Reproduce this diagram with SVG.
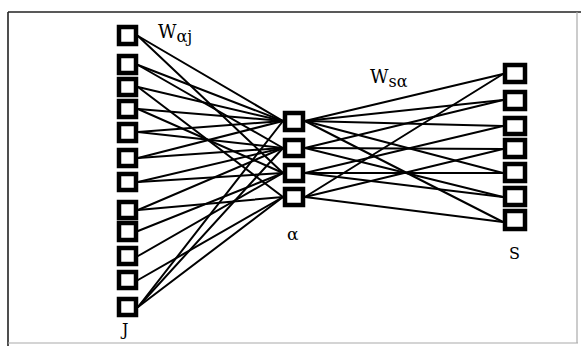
<svg xmlns="http://www.w3.org/2000/svg" width="581" height="346" viewBox="0 0 581 346">
  <style>
    .frame { fill: none; stroke: #222; stroke-width: 1.6; }
    .frame-soft { fill: none; stroke: #aaa; stroke-width: 1.2; }
    .edge { stroke: #000; stroke-width: 2; fill: none; stroke-linecap: round; }
    .unit { fill: #fff; stroke: #000; stroke-width: 4.5; }
    .lbl { font-family: "DejaVu Serif", "Liberation Serif", serif; fill: #000; }
  </style>

  <!-- page frame -->
  <line class="frame" x1="8" y1="12" x2="581" y2="12"/>
  <line class="frame" x1="8" y1="12" x2="8" y2="346"/>
  <line class="frame-soft" x1="8" y1="343" x2="578" y2="343"/>
  <line class="frame-soft" x1="577" y1="12" x2="577" y2="343"/>

  <!-- weights between layers -->
  <g id="connectors">
    <!-- input layer J to hidden layer alpha -->
    <line class="edge" x1="138" y1="36" x2="283" y2="121"/>
    <line class="edge" x1="138" y1="36" x2="283" y2="173"/>
    <line class="edge" x1="138" y1="65" x2="283" y2="148"/>
    <line class="edge" x1="138" y1="65" x2="283" y2="121"/>
    <line class="edge" x1="138" y1="87" x2="283" y2="121"/>
    <line class="edge" x1="138" y1="87" x2="283" y2="197"/>
    <line class="edge" x1="138" y1="109" x2="283" y2="121"/>
    <line class="edge" x1="138" y1="109" x2="283" y2="173"/>
    <line class="edge" x1="138" y1="132" x2="283" y2="121"/>
    <line class="edge" x1="138" y1="132" x2="283" y2="148"/>
    <line class="edge" x1="138" y1="158" x2="283" y2="121"/>
    <line class="edge" x1="138" y1="158" x2="283" y2="148"/>
    <line class="edge" x1="138" y1="182" x2="283" y2="173"/>
    <line class="edge" x1="138" y1="182" x2="283" y2="148"/>
    <line class="edge" x1="138" y1="210" x2="283" y2="197"/>
    <line class="edge" x1="138" y1="210" x2="283" y2="148"/>
    <line class="edge" x1="138" y1="231" x2="283" y2="173"/>
    <line class="edge" x1="138" y1="256" x2="283" y2="173"/>
    <line class="edge" x1="138" y1="280" x2="283" y2="197"/>
    <line class="edge" x1="138" y1="307" x2="283" y2="197"/>
    <line class="edge" x1="138" y1="307" x2="283" y2="121"/>
    <line class="edge" x1="138" y1="307" x2="283" y2="148"/>

    <!-- hidden layer alpha to output layer S -->
    <line class="edge" x1="305" y1="121" x2="503" y2="74"/>
    <line class="edge" x1="305" y1="121" x2="503" y2="100"/>
    <line class="edge" x1="305" y1="121" x2="503" y2="173"/>
    <line class="edge" x1="305" y1="121" x2="503" y2="222"/>
    <line class="edge" x1="305" y1="121" x2="503" y2="126"/>
    <line class="edge" x1="305" y1="148" x2="503" y2="149"/>
    <line class="edge" x1="305" y1="148" x2="503" y2="100"/>
    <line class="edge" x1="305" y1="148" x2="503" y2="197"/>
    <line class="edge" x1="305" y1="173" x2="503" y2="126"/>
    <line class="edge" x1="305" y1="173" x2="503" y2="173"/>
    <line class="edge" x1="305" y1="173" x2="503" y2="197"/>
    <line class="edge" x1="305" y1="197" x2="503" y2="74"/>
    <line class="edge" x1="305" y1="197" x2="503" y2="149"/>
    <line class="edge" x1="305" y1="197" x2="503" y2="222"/>
  </g>

  <!-- input layer J -->
  <g id="J1"><rect class="unit" x="119" y="27" width="17" height="17"/></g>
  <g id="J2"><rect class="unit" x="119" y="56" width="17" height="17"/></g>
  <g id="J3"><rect class="unit" x="119" y="79" width="17" height="16"/></g>
  <g id="J4"><rect class="unit" x="119" y="101" width="17" height="16"/></g>
  <g id="J5"><rect class="unit" x="119" y="124" width="17" height="17"/></g>
  <g id="J6"><rect class="unit" x="119" y="150" width="17" height="16"/></g>
  <g id="J7"><rect class="unit" x="119" y="174" width="17" height="16"/></g>
  <g id="J8"><rect class="unit" x="119" y="202" width="17" height="16"/></g>
  <g id="J9"><rect class="unit" x="119" y="223" width="17" height="17"/></g>
  <g id="J10"><rect class="unit" x="119" y="248" width="17" height="16"/></g>
  <g id="J11"><rect class="unit" x="119" y="272" width="17" height="16"/></g>
  <g id="J12"><rect class="unit" x="119" y="299" width="17" height="16"/></g>

  <!-- hidden layer alpha -->
  <g id="A1"><rect class="unit" x="285" y="113" width="18" height="17"/></g>
  <g id="A2"><rect class="unit" x="285" y="140" width="18" height="16"/></g>
  <g id="A3"><rect class="unit" x="285" y="165" width="18" height="16"/></g>
  <g id="A4"><rect class="unit" x="285" y="189" width="18" height="16"/></g>

  <!-- output layer S -->
  <g id="S1"><rect class="unit" x="505" y="65" width="20" height="17"/></g>
  <g id="S2"><rect class="unit" x="505" y="92" width="20" height="17"/></g>
  <g id="S3"><rect class="unit" x="505" y="118" width="20" height="16"/></g>
  <g id="S4"><rect class="unit" x="505" y="140" width="20" height="17"/></g>
  <g id="S5"><rect class="unit" x="505" y="164" width="20" height="17"/></g>
  <g id="S6"><rect class="unit" x="505" y="188" width="20" height="17"/></g>
  <g id="S7"><rect class="unit" x="505" y="211" width="20" height="18"/></g>

  <!-- labels -->
  <text class="lbl" x="158" y="38" font-size="18">W<tspan font-size="16" dy="4">αj</tspan></text>
  <text class="lbl" x="370" y="83" font-size="18">W<tspan font-size="16" dy="4">sα</tspan></text>
  <text class="lbl" x="287" y="240" font-size="17">α</text>
  <text class="lbl" x="509" y="259" font-size="16">S</text>
  <text class="lbl" x="122" y="335" font-size="16">J</text>
</svg>
